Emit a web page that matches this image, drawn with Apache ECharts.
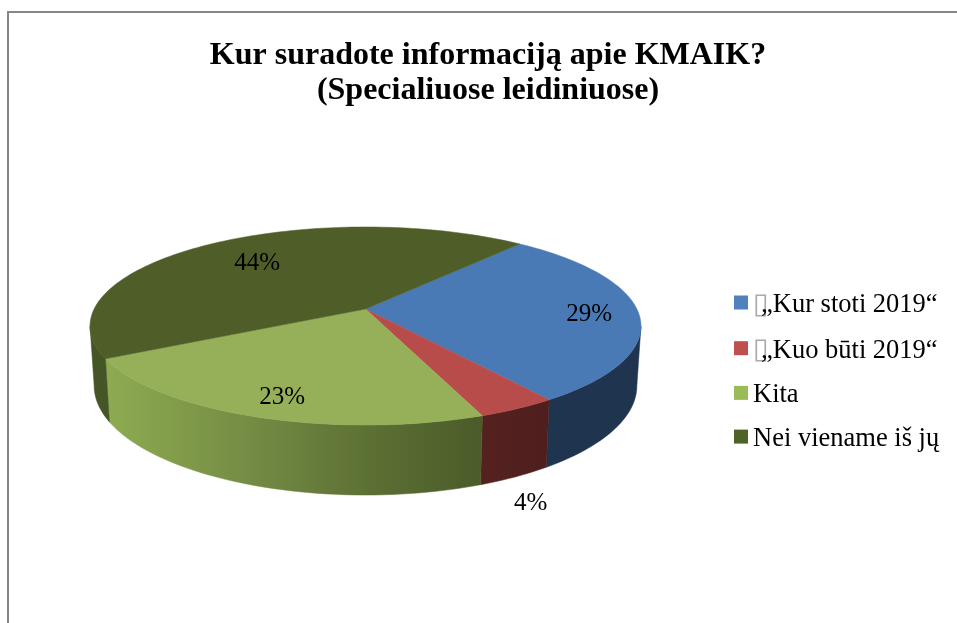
<!DOCTYPE html>
<html>
<head>
<meta charset="utf-8">
<style>
  html, body { margin: 0; padding: 0; background: #fff; }
  #main { width: 957px; height: 623px; }
</style>
<script src="https://cdn.jsdelivr.net/npm/echarts@6/dist/echarts.min.js"></script>
</head>
<body>
<div id="main"></div>
<script>
// values
const categories = ['„Kur stoti 2019“', '„Kuo būti 2019“', 'Kita', 'Nei viename iš jų']
const shares = [29, 4, 23, 44]

const titleText = 'Kur suradote informaciją apie KMAIK?\n(Specialiuose leidiniuose)'
const serif = '"Liberation Serif", "Times New Roman", serif'

const legendColors = ['#4f81bd', '#c0504d', '#9bbb59', '#4f6228']
const topColors = ['#4a7ab5', '#b84c4a', '#95b058', '#4f5e29']
const blueWall = '#1f344e'
const redWall = new echarts.graphic.LinearGradient(481, 0, 548, 0, [
  { offset: 0, color: '#55211f' },
  { offset: 1, color: '#4e1f1e' }
], true)
const greenWall = new echarts.graphic.LinearGradient(106, 0, 482, 0, [
  { offset: 0, color: '#8eab51' },
  { offset: 0.4, color: '#738a43' },
  { offset: 0.7, color: '#5c7034' },
  { offset: 1, color: '#4b5b29' }
], true)
const wallColors = [blueWall, redWall, greenWall, '#465525']

// where each percent label sits: radius on the disc, then a pixel shift
const labelRadius = [0.82, 1, 0.826, 0.69]
const labelShift = [[0, 2], [13, 95], [6, 3], [0, 2]]

// tilted disc, perspective projection
const cx = 365.5
const cy = 309
const rx = 271.4
const ry = 96.1
const persp = 0.1717
const depth = 58
const bottomScale = 0.985
const startAngle = 50
// the wall only shows between the two silhouette points of the disc
const wallFrom = -Math.asin(persp) * 180 / Math.PI
const wallTo = -180 - wallFrom

function project (deg, r) {
  const u = r * Math.cos(deg * Math.PI / 180)
  const v = r * Math.sin(deg * Math.PI / 180)
  const w = 1 + persp * v
  return [cx + rx * u / w, cy - ry * v / w]
}

function projectBottom (deg) {
  const p = project(deg, 1)
  const w = 1 + persp * Math.sin(deg * Math.PI / 180)
  return [cx + (p[0] - cx) * bottomScale, p[1] + depth / w]
}

function sliceAngles (i) {
  const total = shares.reduce((a, b) => a + b, 0)
  const before = shares.slice(0, i).reduce((a, b) => a + b, 0)
  return [startAngle - before / total * 360, startAngle - (before + shares[i]) / total * 360]
}

function arcAngles (from, to) {
  const list = []
  const steps = Math.ceil(Math.abs(to - from) / 1.5)
  for (let s = 0; s <= steps; s++) {
    list.push(from + (to - from) * s / steps)
  }
  return list
}

function renderSlice (i) {
  const [from, to] = sliceAngles(i)
  const rim = arcAngles(from, to).map(a => project(a, 1))
  const wallArc = arcAngles(Math.min(from, wallFrom), Math.max(to, wallTo))
  const wallTop = wallArc.map(a => project(a, 1))
  const wallBottom = wallArc.map(a => projectBottom(a)).reverse()
  const mid = (from + to) / 2
  const lp = project(mid, labelRadius[i])
  return {
    type: 'group',
    children: [
      {
        type: 'polygon',
        z2: 1,
        shape: { points: wallTop.concat(wallBottom) },
        style: { fill: wallColors[i], stroke: wallColors[i], lineWidth: 0.5 }
      },
      {
        type: 'polygon',
        z2: 10,
        shape: { points: [[cx, cy]].concat(rim) },
        style: { fill: topColors[i], stroke: topColors[i], lineWidth: 0.5 }
      },
      {
        type: 'text',
        z2: 20,
        style: {
          text: shares[i] + '%',
          x: lp[0] + labelShift[i][0],
          y: lp[1] + labelShift[i][1],
          fill: '#000',
          font: '25px ' + serif,
          align: 'center',
          verticalAlign: 'middle'
        }
      }
    ]
  }
}

const chart = echarts.init(document.getElementById('main'), null, { renderer: 'canvas' })

chart.setOption({
  animation: false,
  backgroundColor: '#fff',
  title: {
    text: titleText,
    left: 483,
    top: 33,
    textAlign: 'center',
    textStyle: {
      fontFamily: serif,
      fontSize: 32,
      fontWeight: 'bold',
      color: '#000',
      lineHeight: 35
    }
  },
  legend: {
    orient: 'vertical',
    left: 729,
    top: 280.5,
    itemWidth: 14,
    itemHeight: 14,
    itemGap: 11.7,
    icon: 'rect',
    selectedMode: false,
    data: categories,
    formatter: function (name) {
      return (name.charAt(0) === '„' ? '{box|\u25AF}' : '') + '{t|' + name + '}'
    },
    textStyle: {
      fontFamily: serif,
      fontSize: 26.5,
      color: '#000',
      rich: {
        box: { fontFamily: 'DejaVu Sans', fontSize: 29, color: '#aaa', width: 8, lineHeight: 30, padding: [5, 0, 0, 0] },
        t: { fontFamily: serif, fontSize: 26.5, color: '#000', lineHeight: 30, padding: [5, 0, 0, 0] }
      }
    }
  },
  graphic: [
    {
      type: 'rect',
      shape: { x: 8, y: 12, width: 1100, height: 800 },
      style: { fill: 'none', stroke: '#868686', lineWidth: 2 }
    }
  ],
  series: categories.map((name, i) => ({
    type: 'custom',
    name: name,
    coordinateSystem: 'none',
    silent: true,
    itemStyle: { color: legendColors[i] },
    data: [shares[i]],
    renderItem: () => renderSlice(i)
  }))
})
</script>
</body>
</html>
